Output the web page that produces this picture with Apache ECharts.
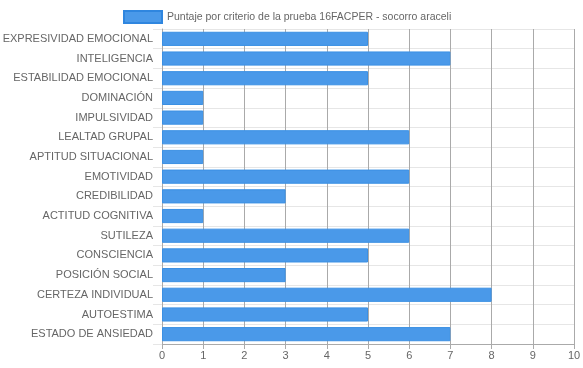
<!DOCTYPE html>
<html>
<head>
<meta charset="utf-8">
<script src="https://cdn.jsdelivr.net/npm/echarts@6/dist/echarts.min.js"></script>
<style>html,body{margin:0;padding:0;background:#fff}#c{width:583px;height:368px}</style>
</head>
<body>
<div id="c"></div>
<script>
var categories = ["EXPRESIVIDAD EMOCIONAL","INTELIGENCIA","ESTABILIDAD EMOCIONAL","DOMINACIÓN","IMPULSIVIDAD","LEALTAD GRUPAL","APTITUD SITUACIONAL","EMOTIVIDAD","CREDIBILIDAD","ACTITUD COGNITIVA","SUTILEZA","CONSCIENCIA","POSICIÓN SOCIAL","CERTEZA INDIVIDUAL","AUTOESTIMA","ESTADO DE ANSIEDAD"];
var values = [5,7,5,1,1,6,1,6,3,1,6,5,3,8,5,7];
var seriesName = "Puntaje por criterio de la prueba 16FACPER - socorro araceli";
var xMin = 0, xMax = 10, xInterval = 1;

var chart = echarts.init(document.getElementById('c'));
chart.setOption({
  animation: false,
  textStyle: {fontFamily: 'Liberation Sans, Arial, sans-serif'},
  legend: {
    top: 5, left: 118,
    icon: 'rect', itemWidth: 38, itemHeight: 12, itemGap: 6,
    textStyle: {color: '#666', fontSize: 10.5},
    data: [{name: seriesName, itemStyle: {color: '#4a99e9', borderColor: '#2f86df', borderWidth: 2}}]
  },
  grid: {left: 162, right: 9, top: 29, bottom: 24, containLabel: false, outerBoundsMode: 'none'},
  xAxis: {
    type: 'value', min: xMin, max: xMax, interval: xInterval,
    axisLine: {show: true, lineStyle: {color: '#aaa'}},
    axisTick: {show: true, length: 5, lineStyle: {color: '#aaa'}},
    axisLabel: {color: '#666', fontSize: 11, margin: 6},
    splitLine: {show: true, lineStyle: {color: '#aaa'}}
  },
  yAxis: {
    type: 'category', data: categories, inverse: true,
    axisLine: {show: true, lineStyle: {color: '#aaa'}},
    axisTick: {show: true, length: 9, lineStyle: {color: '#e6e6e6'}},
    axisLabel: {color: '#666', fontSize: 11, margin: 9, interval: 0},
    splitLine: {show: true, lineStyle: {color: '#e6e6e6'}}
  },
  series: [{
    name: seriesName, type: 'bar', data: values,
    barCategoryGap: '28%',
    itemStyle: {color: '#4a99e9', borderColor: '#3b90e4', borderWidth: 1}
  }]
});
</script>
</body>
</html>
